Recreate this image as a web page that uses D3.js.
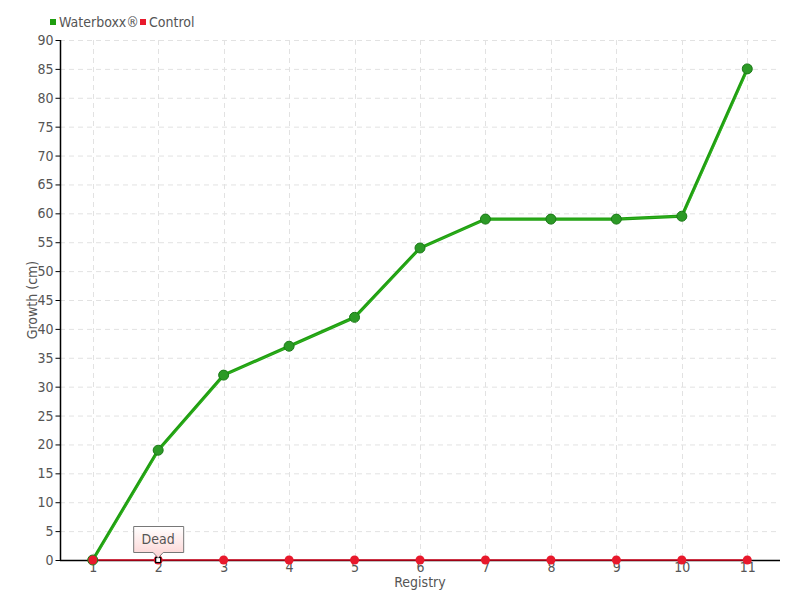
<!DOCTYPE html>
<html><head><meta charset="utf-8">
<script src="https://cdn.jsdelivr.net/npm/d3@7"></script>
<style>
body{margin:0;background:#fff;}
text{font-family:"Liberation Sans Narrow","DejaVu Sans Condensed","Roboto Condensed",sans-serif;}
</style></head>
<body><svg id="c" width="800" height="600"></svg>
<script>
const categories = ["1","2","3","4","5","6","7","8","9","10","11"];
const waterboxx = [0,19,32,37,42,54,59,59,59,59.5,85];
const control = [0,0,0,0,0,0,0,0,0,0,0];
const yTicks = d3.range(0,91,5);
const seriesNames = ["Waterboxx®","Control"];
const annotation = {category:"2", value:0, label:"Dead"};

const svg = d3.select("#c");
const m = {l:60, r:20, t:40, b:40};
const W = 800, H = 600;
const x = d3.scalePoint().domain(categories).range([m.l, W-m.r]).padding(0.5);
const y = d3.scaleLinear().domain([0,90]).range([H-m.b, m.t]);

// grid
const grid = svg.append("g").attr("stroke","#e2e2e2").attr("stroke-dasharray","5,4").attr("stroke-width",1);
grid.selectAll("line.h").data(yTicks.filter(d=>d>0)).join("line")
  .attr("x1",m.l).attr("x2",W-m.r).attr("y1",d=>y(d)+0.5).attr("y2",d=>y(d)+0.5);
grid.selectAll("line.v").data(categories).join("line")
  .attr("y1",m.t).attr("y2",H-m.b).attr("x1",d=>Math.round(x(d))+0.5).attr("x2",d=>Math.round(x(d))+0.5);

// axes
const yAxis = svg.append("g").attr("transform",`translate(${m.l+0.5},0)`)
  .call(d3.axisLeft(y).tickValues(yTicks).tickSize(5).tickPadding(2).tickFormat(d3.format("d")));
const xAxis = svg.append("g").attr("transform",`translate(0,${H-m.b+0.5})`)
  .call(d3.axisBottom(x).tickSize(0).tickPadding(2));
[yAxis,xAxis].forEach(a=>{
  a.select(".domain").attr("stroke","#000").attr("stroke-width",1.5);
  a.selectAll(".tick line").attr("stroke","#000");
  a.selectAll("text").attr("fill","#555").attr("font-size",14).attr("font-family",null);
});
xAxis.select(".domain").attr("d",`M${m.l},0H${W-m.r}`);
yAxis.select(".domain").attr("d",`M0,${y(90)}V${y(0)}`);

// titles
svg.append("text").attr("x",(m.l+W-m.r)/2).attr("y",587).attr("text-anchor","middle")
  .attr("fill","#555").attr("font-size",14).text("Registry");
svg.append("text").attr("transform",`translate(37,${(m.t+H-m.b)/2}) rotate(-90)`)
  .attr("text-anchor","middle").attr("fill","#555").attr("font-size",14).text("Growth (cm)");

// red series
const lineR = d3.line().x((d,i)=>x(categories[i])).y(d=>y(d));
svg.append("path").datum(control).attr("d",lineR).attr("fill","none")
  .attr("stroke","#d0021b").attr("stroke-width",1.5);

// green series
svg.append("path").datum(waterboxx).attr("d",lineR).attr("fill","none")
  .attr("stroke","#1f9e10").attr("stroke-width",3.2);
svg.append("path").datum(waterboxx).attr("d",lineR).attr("fill","none")
  .attr("stroke","#3cbf2a").attr("stroke-width",1).attr("transform","translate(1,0)").attr("opacity",0.6);

svg.selectAll("circle.g").data(waterboxx).join("circle")
  .attr("cx",(d,i)=>x(categories[i])).attr("cy",d=>y(d)).attr("r",5)
  .attr("fill","#2c9a26").attr("stroke","#1b7a18").attr("stroke-width",1);
svg.selectAll("circle.r").data(control).join("circle")
  .attr("cx",(d,i)=>x(categories[i])).attr("cy",d=>y(d)).attr("r",4.5)
  .attr("fill","#e8192c");

// annotation
const ax = x(annotation.category), ay = y(annotation.value);
svg.append("rect").attr("x",ax-2.5).attr("y",ay-2.5).attr("width",5).attr("height",5)
  .attr("fill","#fff").attr("stroke","#000").attr("stroke-width",1.2);
const defs = svg.append("defs");
const gr = defs.append("linearGradient").attr("id","tip").attr("x1",0).attr("x2",0).attr("y1",0).attr("y2",1);
gr.append("stop").attr("offset","0%").attr("stop-color","#ffffff");
gr.append("stop").attr("offset","100%").attr("stop-color","#fcd2d2");
const bx = ax-25, by = ay-34, bw = 50, bh = 26;
svg.append("path")
  .attr("d",`M${bx+0.5},${by+0.5}H${bx+bw+0.5}V${by+bh+0.5}H${ax+5}L${ax},${by+bh+6}L${ax-5},${by+bh+0.5}H${bx+0.5}Z`)
  .attr("fill","url(#tip)").attr("stroke","#777").attr("stroke-width",1);
svg.append("text").attr("x",ax).attr("y",by+18).attr("text-anchor","middle")
  .attr("fill","#555").attr("font-size",14).text(annotation.label);

// legend
const legColors = ["#1f9e10","#e8192c"];
const legX = [50,140];
seriesNames.forEach((n,i)=>{
  svg.append("rect").attr("x",legX[i]).attr("y",19).attr("width",6).attr("height",6).attr("fill",legColors[i]);
  svg.append("text").attr("x",legX[i]+9).attr("y",27).attr("fill","#555").attr("font-size",14).text(n);
});
</script></body></html>
